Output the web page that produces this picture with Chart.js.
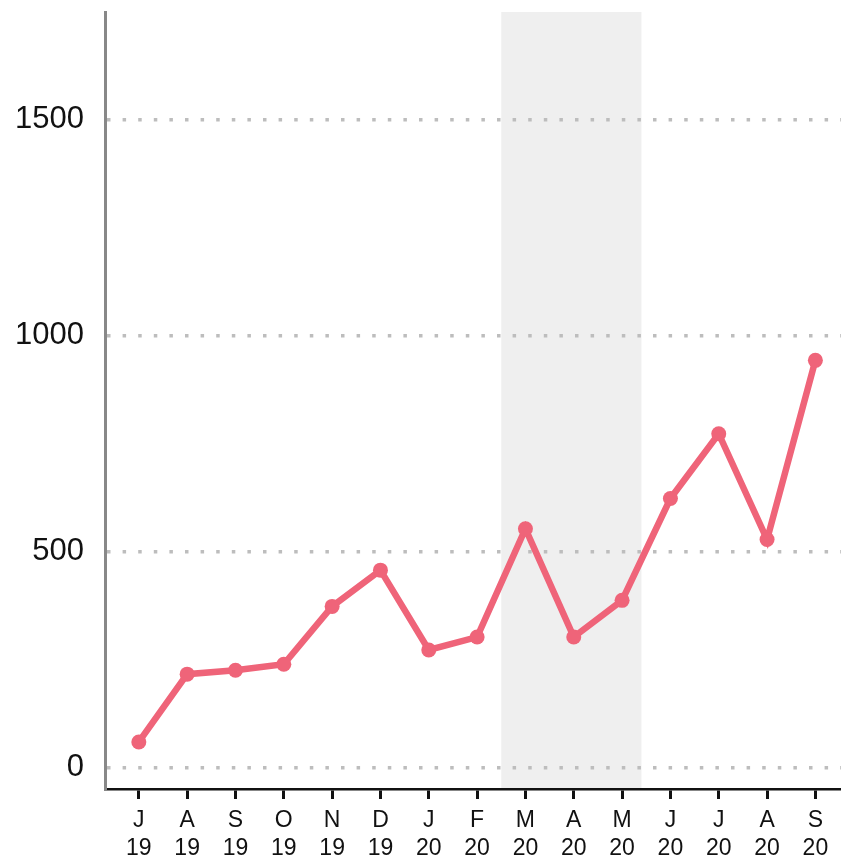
<!DOCTYPE html>
<html>
<head>
<meta charset="utf-8">
<script src="https://cdn.jsdelivr.net/npm/chart.js@4.4.1/dist/chart.umd.min.js"></script>
<style>
  html,body{margin:0;padding:0;background:#fff}
  #wrap{width:841px;height:857px;position:relative}
</style>
</head>
<body>
<div id="wrap"><canvas id="c"></canvas></div>
<script>
const months = ['J','A','S','O','N','D','J','F','M','A','M','J','J','A','S']
const years  = ['19','19','19','19','19','19','20','20','20','20','20','20','20','20','20']
const counts = [59,216,225,239,373,457,272,302,553,302,387,623,773,528,943]
const yTicks = [0,500,1000,1500]
const band = [7.5,10.4]

const C = { line:'#EF6479', band:'#EFEFEF', grid:'#BDBDBD', axisY:'#888888', axisX:'#111111', text:'#111111' }

// shaded period behind grid and line
const bandPlugin = {
  id:'band',
  beforeDraw(chart){
    const {ctx, chartArea:a, scales:{x}} = chart
    const x1 = x.getPixelForValue(band[0]), x2 = x.getPixelForValue(band[1])
    ctx.save()
    ctx.fillStyle = C.band
    ctx.fillRect(x1, a.top, x2-x1, a.bottom-a.top)
    ctx.restore()
  }
}

new Chart(document.getElementById('c'),{
  type:'line',
  data:{ datasets:[{
    data:counts.map((v,i)=>({x:i,y:v})),
    borderColor:C.line, backgroundColor:C.line,
    borderWidth:6.5, pointRadius:7.5, pointHoverRadius:7.5, pointBorderWidth:0,
    pointBackgroundColor:C.line, tension:0, clip:false
  }]},
  options:{
    responsive:true, maintainAspectRatio:false, animation:false,
    layout:{ autoPadding:false, padding:{ top:12, right:0, left:0, bottom:0 } },
    plugins:{ legend:{display:false}, tooltip:{enabled:false} },
    scales:{
      x:{
        type:'linear', min:-0.7, max:14.53,
        afterBuildTicks:s=>{ s.ticks = months.map((_,i)=>({value:i})) },
        afterFit:s=>{ s.height = 68; s.paddingLeft = 0; s.paddingRight = 0 },
        grid:{ display:true, drawOnChartArea:false, drawTicks:true, tickLength:10, tickColor:C.axisX, tickWidth:3 },
        border:{ display:true, color:C.axisX, width:2.5 },
        ticks:{ color:C.text, autoSkip:false, maxRotation:0, padding:8,
          font:{ family:'"Liberation Sans", Arial, sans-serif', size:23, lineHeight:1.2 },
          callback:(v)=>[months[v], years[v]] }
      },
      y:{
        type:'linear', min:-50, max:1750,
        afterBuildTicks:s=>{ s.ticks = yTicks.map(v=>({value:v})) },
        afterFit:s=>{ s.width = 105; s.paddingTop = 0; s.paddingBottom = 0 },
        grid:{ color:C.grid, lineWidth:3.5, drawTicks:false },
        border:{ display:true, color:C.axisY, width:3, dash:[3.5,12.1] },
        ticks:{ color:C.text, padding:21, callback:v=>String(v),
          font:{ family:'"Liberation Sans", Arial, sans-serif', size:31 } }
      }
    }
  },
  plugins:[bandPlugin]
})
</script>
</body>
</html>
